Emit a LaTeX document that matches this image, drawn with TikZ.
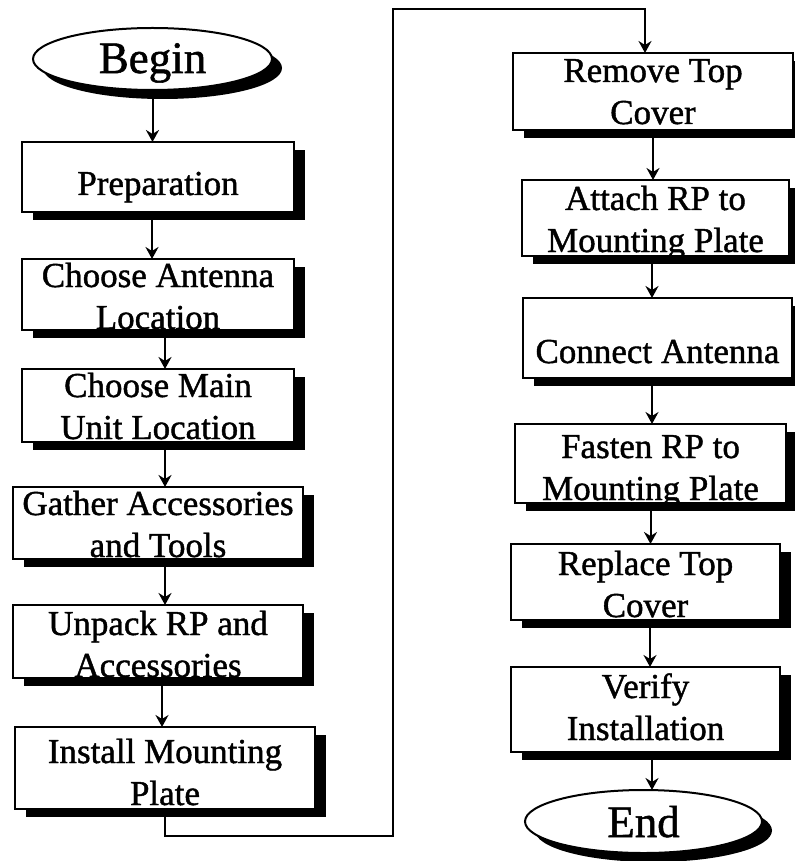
\documentclass[tikz,border=0pt]{standalone}
\usepackage{fontspec}
\setmainfont{Liberation Serif}[FakeBold=1.2]
\usetikzlibrary{arrows.meta,positioning,shapes.geometric,shadows}

\begin{document}
\begin{tikzpicture}[
    x=0.5pt, y=-0.5pt,
    every node/.style={font=\fontsize{17.5}{21}\selectfont},
    stepbox/.style={
        rectangle, draw, fill=white, line width=1pt,
        inner sep=0pt, outer sep=0pt, align=center, text depth=0pt,
        general shadow={fill=black, shadow xshift=5.5pt, shadow yshift=-4pt}
    },
    terminal/.style={
        ellipse, draw, fill=white, line width=1pt,
        inner sep=0pt, outer sep=0pt, text depth=0pt,
        font=\fontsize{22.5}{27}\selectfont,
        general shadow={fill=black, shadow xshift=5pt, shadow yshift=-4.5pt}
    },
    arr/.style={->, line width=1pt, >={Stealth[length=6pt,width=6.5pt,inset=2pt]}}
]
\useasboundingbox (0,0) rectangle (795,861);

% --- Left column ---
\node[terminal, minimum width=119.5pt, minimum height=31pt, text height=14pt] (begin) at (152.5,59) {Begin};

\node[stepbox, below=26pt of begin, xshift=2.75pt, minimum width=136pt, minimum height=35pt, text height=18pt] (prep) {Preparation};

\node[stepbox, below=23.5pt of prep, minimum width=136pt, minimum height=35.5pt, text height=34.5pt] (antloc) {Choose Antenna\\Location};

\node[stepbox, below=19.5pt of antloc, minimum width=136pt, minimum height=36.5pt, text height=33.5pt] (mainloc) {Choose Main\\Unit Location};

\node[stepbox, below=22.5pt of mainloc, minimum width=145pt, minimum height=36pt, text height=34pt] (gather) {Gather Accessories\\and Tools};

\node[stepbox, below=23pt of gather, minimum width=145pt, minimum height=36.5pt, text height=35.5pt] (unpack) {Unpack RP and\\Accessories};

\node[stepbox, below=24.5pt of unpack, xshift=3.5pt, minimum width=150pt, minimum height=41pt, text height=37pt] (install) {Install Mounting\\Plate};

% --- Right column ---
\node[stepbox, minimum width=140pt, minimum height=38.5pt, text height=32.5pt] (remove) at (653,91.5) {Remove Top\\Cover};

\node[stepbox, below=25pt of remove, xshift=1.25pt, minimum width=133.5pt, minimum height=38pt, text height=34pt] (attach) {Attach RP to\\Mounting Plate};

\node[stepbox, below=21pt of attach, xshift=1pt, minimum width=134.5pt, minimum height=40pt, text height=25pt] (connect) {Connect Antenna};

\node[stepbox, below=23pt of connect, xshift=-3.5pt, minimum width=135.5pt, minimum height=39.5pt, text height=36.5pt] (fasten) {Fasten RP to\\Mounting Plate};

\node[stepbox, below=20.5pt of fasten, xshift=-2.5pt, minimum width=134.5pt, minimum height=38pt, text height=35pt] (replace) {Replace Top\\Cover};

\node[stepbox, below=23.5pt of replace, minimum width=134.5pt, minimum height=42.5pt, text height=30.5pt] (verify) {Verify\\Installation};

\node[terminal, below=19pt of verify, xshift=-1pt, minimum width=118.5pt, minimum height=31.5pt, text height=15.5pt] (end) {End};

% --- Arrows, left column ---
\draw[arr] (begin.south) -- (begin.south |- prep.north);
\draw[arr] ([xshift=-3pt]prep.south) -- ([xshift=-3pt]prep.south |- antloc.north);
\draw[arr] ([xshift=3.5pt]antloc.south) -- ([xshift=3.5pt]antloc.south |- mainloc.north);
\draw[arr] ([xshift=3.5pt]mainloc.south) -- ([xshift=3.5pt]mainloc.south |- gather.north);
\draw[arr] ([xshift=3.5pt]gather.south) -- ([xshift=3.5pt]gather.south |- unpack.north);
\draw[arr] ([xshift=2pt]unpack.south) -- ([xshift=2pt]unpack.south |- install.north);

% --- Column change ---
\coordinate (loopbot) at (393,836);
\coordinate (looptop) at (393,9);
\draw[arr] (install.south) |- (loopbot) -- (looptop) -| ([xshift=-4pt]remove.north);

% --- Arrows, right column ---
\draw[arr] (remove.south) -- (remove.south |- attach.north);
\draw[arr] ([xshift=-1.75pt]attach.south) -- ([xshift=-1.75pt]attach.south |- connect.north);
\draw[arr] ([xshift=-2.75pt]connect.south) -- ([xshift=-2.75pt]connect.south |- fasten.north);
\draw[arr] (fasten.south) -- (fasten.south |- replace.north);
\draw[arr] ([xshift=2.25pt]replace.south) -- ([xshift=2.25pt]replace.south |- verify.north);
\draw[arr] ([xshift=3.25pt]verify.south) -- ([xshift=3.25pt]verify.south |- end.north);

\end{tikzpicture}
\end{document}
